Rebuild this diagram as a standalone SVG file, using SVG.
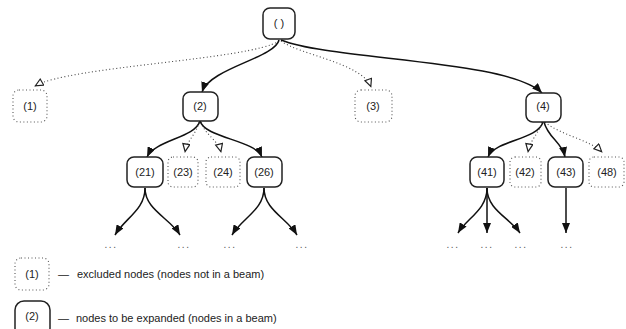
<svg xmlns="http://www.w3.org/2000/svg" width="626" height="329" viewBox="0 0 626 329">
  <style>
    text { font-family: "Liberation Sans", Arial, sans-serif; font-size: 11px; fill: #222; }
    .lbl { text-anchor: middle; }
    .beam { fill: #fff; stroke: #222; stroke-width: 1.5; }
    .excl { fill: #fff; stroke: #555; stroke-width: 1.1; stroke-dasharray: 1 2.5; }
    .edge { fill: none; stroke: #111; stroke-width: 1.5; marker-end: url(#solid); }
    .skip { fill: none; stroke: #444; stroke-width: 1.1; stroke-dasharray: 1 2.5; marker-end: url(#hollow); }
    .more { font-size: 10px; letter-spacing: 1.5px; text-anchor: middle; fill: #555; }
  </style>
  <defs>
    <marker id="solid" viewBox="0 0 10 8" refX="10" refY="4" markerWidth="10" markerHeight="8" markerUnits="userSpaceOnUse" orient="auto">
      <path d="M0,0 L10,4 L0,8 z" fill="#111"/>
    </marker>
    <marker id="hollow" viewBox="0 0 10 10" refX="9" refY="4" markerWidth="10" markerHeight="10" markerUnits="userSpaceOnUse" orient="auto">
      <path d="M1,0.5 L8.5,4 L1,7.5 z" fill="#fff" stroke="#222" stroke-width="1.2"/>
    </marker>
  </defs>

  <!-- connectors -->
  <g id="edges">
    <path class="skip" d="M279,41 C250,60 70,66 35,86"/>
    <path class="edge" d="M279,40 C275,58 210,68 202,92"/>
    <path class="skip" d="M281,41 C300,55 362,63 371,87"/>
    <path class="edge" d="M281,40 C330,60 510,60 542,93"/>

    <path class="edge" d="M200,121 C195,138 155,140 147,157"/>
    <path class="skip" d="M199,122 C196,135 187,140 185,152"/>
    <path class="skip" d="M201,122 C205,135 218,140 221,152"/>
    <path class="edge" d="M200,121 C205,138 255,140 262,157"/>

    <path class="edge" d="M543,122 C538,140 495,140 488,157"/>
    <path class="skip" d="M542,122 C538,135 530,140 528,152"/>
    <path class="edge" d="M544,122 C548,138 562,142 565,157"/>
    <path class="skip" d="M545,122 C560,135 590,140 602,152"/>

    <path class="edge" d="M145,188 C145,210 125,218 115,235"/>
    <path class="edge" d="M145,188 C145,210 170,218 180,235"/>
    <path class="edge" d="M264,188 C264,210 242,218 232,235"/>
    <path class="edge" d="M264,188 C264,210 287,218 297,235"/>
    <path class="edge" d="M487,188 C487,210 467,218 458,233"/>
    <path class="edge" d="M487,188 L487,233"/>
    <path class="edge" d="M487,188 C487,210 510,218 520,233"/>
    <path class="edge" d="M566,188 L566,233"/>
  </g>

  <!-- nodes -->
  <g id="n-root"><rect class="beam" x="263" y="8" width="32" height="31" rx="7"/><text class="lbl" x="279" y="27">( )</text></g>
  <g id="n1"><rect class="excl" x="13" y="90" width="34" height="32" rx="6"/><text class="lbl" x="30" y="110">(1)</text></g>
  <g id="n2"><rect class="beam" x="183" y="92" width="35" height="29" rx="7"/><text class="lbl" x="200" y="110">(2)</text></g>
  <g id="n3"><rect class="excl" x="355" y="90" width="37" height="32" rx="6"/><text class="lbl" x="373" y="110">(3)</text></g>
  <g id="n4"><rect class="beam" x="526" y="93" width="35" height="29" rx="7"/><text class="lbl" x="543" y="110">(4)</text></g>

  <g id="n21"><rect class="beam" x="127" y="157" width="36" height="30" rx="7"/><text class="lbl" x="145" y="176">(21)</text></g>
  <g id="n23"><rect class="excl" x="168" y="157" width="30" height="30" rx="5"/><text class="lbl" x="183" y="176">(23)</text></g>
  <g id="n24"><rect class="excl" x="206" y="157" width="34" height="30" rx="5"/><text class="lbl" x="223" y="176">(24)</text></g>
  <g id="n26"><rect class="beam" x="247" y="157" width="35" height="30" rx="7"/><text class="lbl" x="264" y="176">(26)</text></g>

  <g id="n41"><rect class="beam" x="470" y="157" width="34" height="30" rx="7"/><text class="lbl" x="487" y="176">(41)</text></g>
  <g id="n42"><rect class="excl" x="510" y="157" width="31" height="30" rx="5"/><text class="lbl" x="525" y="176">(42)</text></g>
  <g id="n43"><rect class="beam" x="548" y="157" width="35" height="30" rx="7"/><text class="lbl" x="566" y="176">(43)</text></g>
  <g id="n48"><rect class="excl" x="589" y="157" width="35" height="30" rx="5"/><text class="lbl" x="607" y="176">(48)</text></g>

  <!-- continuation marks -->
  <g id="continued">
    <text class="more" x="111" y="248">...</text>
    <text class="more" x="184" y="248">...</text>
    <text class="more" x="230" y="248">...</text>
    <text class="more" x="302" y="248">...</text>
    <text class="more" x="453" y="248">...</text>
    <text class="more" x="487" y="248">...</text>
    <text class="more" x="521" y="248">...</text>
    <text class="more" x="567" y="248">...</text>
  </g>

  <!-- legend -->
  <g id="legend">
    <rect class="excl" x="15" y="258" width="34" height="32" rx="6"/>
    <text class="lbl" x="32" y="278">(1)</text>
    <text x="58" y="278">—</text>
    <text x="77" y="278">excluded nodes (nodes not in a beam)</text>
    <rect class="beam" x="15" y="301" width="35" height="36" rx="9"/>
    <text class="lbl" x="32" y="320">(2)</text>
    <text x="58" y="322">—</text>
    <text x="76" y="322">nodes to be expanded (nodes in a beam)</text>
  </g>
</svg>
